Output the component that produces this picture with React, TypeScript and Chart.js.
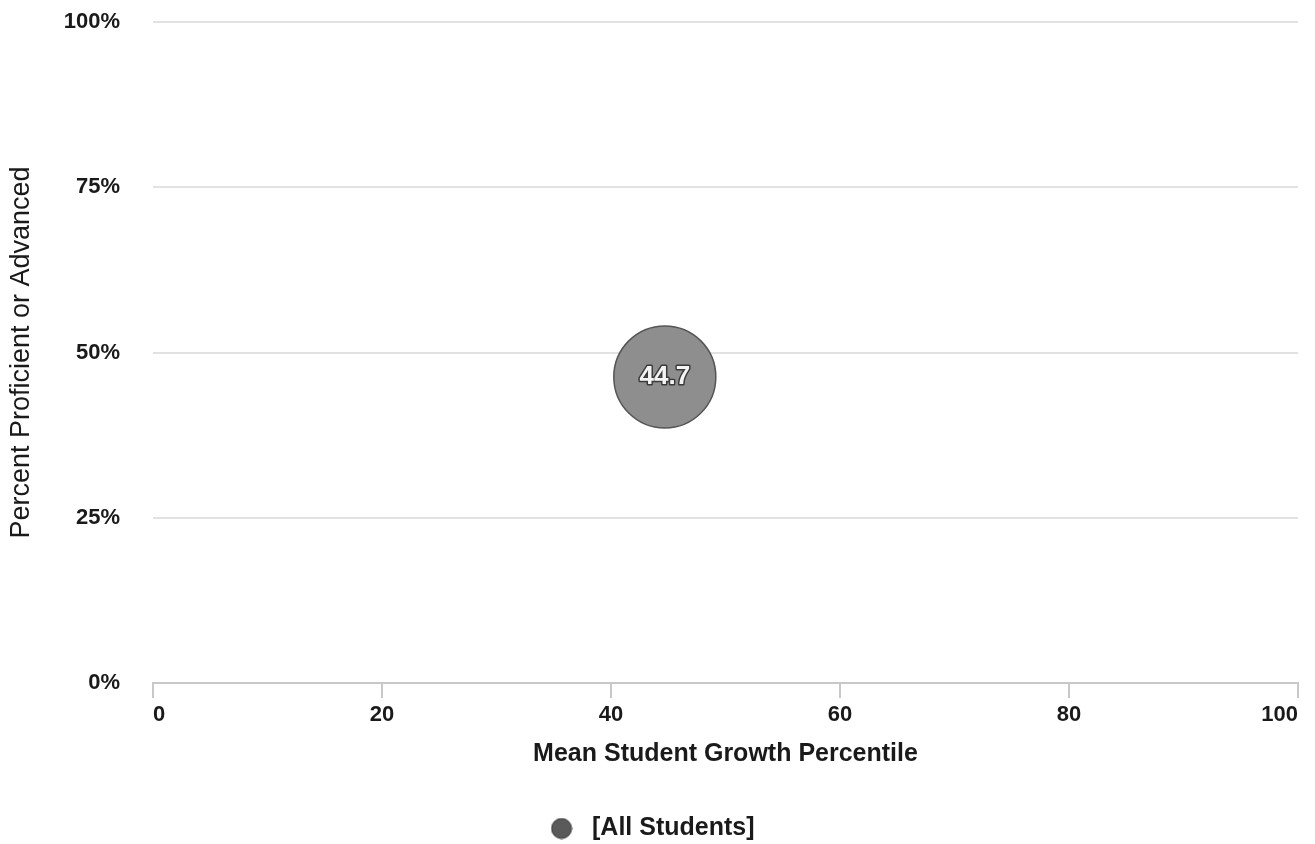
import React, { useEffect, useRef } from "react";
import { Chart, registerables, BubbleController } from "chart.js";

Chart.register(...registerables);
// keep the layout from reserving room for the bubble radius on every side
(BubbleController.prototype as any).getMaxOverflow = function () {
  return 0;
};

const seriesLabel = "[All Students]";
const xValues = [44.7];
const yValues = [46.3];
const radii = [51];
const bubbleLabels = ["44.7"];
const yTicks = [0, 25, 50, 75, 100];
const xTicks = [0, 20, 40, 60, 80, 100];

const FONT = "'Liberation Sans', Arial, sans-serif";

function makeLegendIcon(): HTMLCanvasElement {
  const c = document.createElement("canvas");
  c.width = 22;
  c.height = 22;
  const g = c.getContext("2d")!;
  g.beginPath();
  g.arc(11, 11, 10, 0, Math.PI * 2);
  g.fillStyle = "#5a5a5a";
  g.fill();
  g.lineWidth = 1;
  g.strokeStyle = "#333";
  g.stroke();
  return c;
}

const bubbleLabelPlugin = {
  id: "bubbleLabel",
  afterDatasetsDraw(chart: any) {
    const ctx = chart.ctx;
    const meta = chart.getDatasetMeta(0);
    meta.data.forEach((el: any, i: number) => {
      ctx.save();
      ctx.font = `bold 26px ${FONT}`;
      ctx.textAlign = "center";
      ctx.textBaseline = "middle";
      ctx.lineWidth = 3;
      ctx.strokeStyle = "#3a3a3a";
      ctx.lineJoin = "round";
      ctx.strokeText(bubbleLabels[i], el.x, el.y);
      ctx.fillStyle = "#f4f4f4";
      ctx.fillText(bubbleLabels[i], el.x, el.y);
      ctx.restore();
    });
  },
};

export default function App() {
  const ref = useRef<HTMLCanvasElement>(null);
  useEffect(() => {
    document.body.style.margin = "0";
    const icon = makeLegendIcon();
    const chart = new Chart(ref.current!, {
      type: "bubble",
      data: {
        datasets: [
          {
            label: seriesLabel,
            data: xValues.map((x, i) => ({ x, y: yValues[i], r: radii[i] })),
            backgroundColor: "#8e8e8e",
            borderColor: "#555",
            borderWidth: 1.5,
          },
        ],
      },
      options: {
        animation: false,
        responsive: false,
        layout: { padding: { left: 0, right: 17, top: 22, bottom: -7 } },
        plugins: {
          tooltip: { enabled: false },
          legend: {
            position: "bottom",
            labels: {
              usePointStyle: true,
              pointStyleWidth: 36,
              boxHeight: 22,
              padding: 10,
              color: "#1a1a1a",
              font: { family: FONT, size: 25, weight: "bold" },
              generateLabels: () => [
                {
                  text: seriesLabel,
                  fillStyle: "#5a5a5a",
                  strokeStyle: "#333",
                  lineWidth: 1,
                  pointStyle: icon,
                  fontColor: "#1a1a1a",
                  hidden: false,
                  datasetIndex: 0,
                } as any,
              ],
            },
          },
        },
        scales: {
          x: {
            type: "linear",
            min: 0,
            max: 100,
            afterBuildTicks: (s: any) => {
              s.ticks = xTicks.map((v) => ({ value: v }));
            },
            afterFit: (s: any) => {
              s.height = 123;
            },
            grid: {
              drawOnChartArea: false,
              drawTicks: true,
              tickLength: 15,
              color: "#c8c8c8",
              lineWidth: 2,
            },
            border: { color: "#c8c8c8", width: 2 },
            ticks: {
              padding: 4,
              align: "inner",
              color: "#1a1a1a",
              maxRotation: 0,
              font: { family: FONT, size: 22, weight: "bold" },
            },
            title: {
              display: true,
              text: "Mean Student Growth Percentile",
              color: "#1a1a1a",
              padding: { top: 0, bottom: 37 },
              font: { family: FONT, size: 25, weight: "bold" },
            },
          },
          y: {
            type: "linear",
            min: 0,
            max: 100,
            afterBuildTicks: (s: any) => {
              s.ticks = yTicks.map((v) => ({ value: v }));
            },
            afterFit: (s: any) => {
              s.width = 153;
            },
            grid: {
              drawTicks: true,
              tickLength: 30,
              tickColor: "rgba(0,0,0,0)",
              color: "#e2e2e2",
              lineWidth: 2,
            },
            border: { display: false },
            ticks: {
              padding: 3,
              color: "#1a1a1a",
              callback: (v: any) => v + "%",
              font: { family: FONT, size: 22, weight: "bold" },
            },
            title: {
              display: true,
              text: "Percent Proficient or Advanced",
              color: "#1a1a1a",
              padding: { top: 5, bottom: 0 },
              font: { family: FONT, size: 27 },
            },
          },
        },
      },
      plugins: [bubbleLabelPlugin],
    });
    return () => chart.destroy();
  }, []);
  return (
    <div style={{ width: 1315, height: 844, background: "#fff" }}>
      <canvas ref={ref} width={1315} height={844} />
    </div>
  );
}
